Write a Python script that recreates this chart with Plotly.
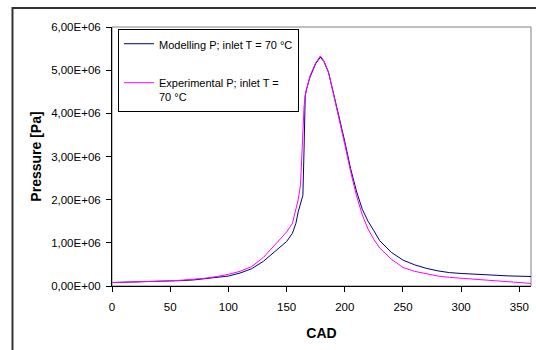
import plotly.graph_objects as go

cad = [0, 10, 20, 30, 40, 50, 60, 70, 80, 90, 100, 110, 120, 130, 140, 145, 150, 155, 158, 160,
       162, 163, 164, 165, 166, 167, 170, 175, 179, 182, 186, 190, 195, 200, 205, 210, 215, 220,
       225, 230, 240, 250, 260, 270, 280, 290, 300, 320, 340, 360]

p_model = [0.08, 0.085, 0.09, 0.095, 0.10, 0.11, 0.125, 0.14, 0.165, 0.195, 0.23, 0.30, 0.40, 0.57,
           0.80, 0.93, 1.03, 1.22, 1.45, 1.72, 1.90, 2.00, 2.10, 3.15, 4.40, 4.55, 4.83, 5.15, 5.30,
           5.20, 4.95, 4.50, 3.95, 3.35, 2.72, 2.20, 1.78, 1.50, 1.28, 1.05, 0.78, 0.60, 0.49, 0.41,
           0.35, 0.31, 0.29, 0.26, 0.235, 0.22]

p_exp = [0.08, 0.085, 0.09, 0.10, 0.11, 0.12, 0.135, 0.155, 0.18, 0.22, 0.27, 0.34, 0.45, 0.66,
         0.96, 1.10, 1.25, 1.45, 1.80, 2.00, 2.35, 2.90, 3.70, 4.15, 4.42, 4.55, 4.86, 5.17, 5.33,
         5.22, 4.96, 4.48, 3.90, 3.28, 2.65, 2.10, 1.65, 1.32, 1.08, 0.88, 0.62, 0.43, 0.34, 0.28,
         0.23, 0.20, 0.18, 0.14, 0.11, 0.06]

y_tickvals = [0, 1e6, 2e6, 3e6, 4e6, 5e6, 6e6]
y_ticktext = ["0,00E+00", "1,00E+06", "2,00E+06", "3,00E+06", "4,00E+06", "5,00E+06", "6,00E+06"]
x_tickvals = [0, 50, 100, 150, 200, 250, 300, 350]

FONT = "Liberation Sans, Arial, sans-serif"

fig = go.Figure()
fig.add_trace(go.Scatter(x=cad, y=[v * 1e6 for v in p_model], mode="lines",
                         name="Modelling P; inlet T = 70 °C", legendgroup="a",
                         line=dict(color="#000080", width=1)))
fig.add_trace(go.Scatter(x=cad, y=[v * 1e6 for v in p_exp], mode="lines",
                         name="Experimental P; inlet T =<br>70 °C", legendgroup="b",
                         line=dict(color="#FF00FF", width=1)))

# chart-area border and plot-area border
fig.add_shape(type="rect", xref="paper", yref="paper", x0=-0.2375, x1=1.3, y0=-0.5, y1=1.0734,
              line=dict(color="#333333", width=2), fillcolor="rgba(0,0,0,0)", layer="below")
fig.add_shape(type="rect", xref="paper", yref="paper", x0=0, x1=1, y0=0, y1=1,
              line=dict(color="#808080", width=1), fillcolor="rgba(0,0,0,0)", layer="below")

fig.update_layout(
    width=536, height=350,
    margin=dict(l=112, r=5, t=27, b=64),
    paper_bgcolor="white", plot_bgcolor="white",
    font=dict(family=FONT, size=11, color="black"),
    showlegend=True,
    legend=dict(x=0.0143, y=0.992, xanchor="left", yanchor="top",
                bordercolor="black", borderwidth=1, bgcolor="white",
                font=dict(family=FONT, size=11, color="black"),
                traceorder="grouped", tracegroupgap=20, valign="top",
                itemwidth=30),
    xaxis=dict(range=[0, 360], tickvals=x_tickvals, showgrid=False, zeroline=False,
               showline=True, linecolor="black", linewidth=1,
               ticks="outside", ticklen=5, tickcolor="black", ticklabelstandoff=5,
               tickfont=dict(family=FONT, size=11.5),
               title=dict(text="CAD", font=dict(family=FONT, size=14, weight="bold"), standoff=16)),
    yaxis=dict(range=[0, 6e6], tickvals=y_tickvals, ticktext=y_ticktext, showgrid=False,
               zeroline=False, showline=True, linecolor="black", linewidth=1,
               ticks="outside", ticklen=5, tickcolor="black", ticklabelstandoff=3,
               tickfont=dict(family=FONT, size=11.5),
               title=dict(text="Pressure [Pa]", font=dict(family=FONT, size=14, weight="bold"), standoff=6)),
)

fig.write_html("out.html")
